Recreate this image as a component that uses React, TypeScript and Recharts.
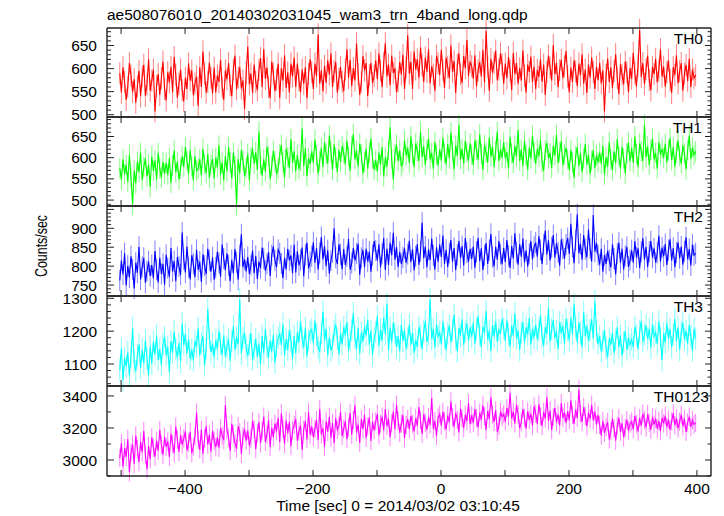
import { LineChart, Line, XAxis, YAxis, ErrorBar } from 'recharts'

const title = 'ae508076010_20140302031045_wam3_trn_4band_long.qdp'
const xTitle = 'Time [sec] 0 = 2014/03/02 03:10:45'
const yTitle = 'Counts/sec'

// bins of 2.5 s, first one at -502 s
const tStart = -502
const tStep = 2.5

const th0 = [
  590, 548, 603, 571, 532, 560, 612, 585, 549, 577, 526, 561, 595, 540, 583, 608, 541, 566, 620, 552,
  574, 598, 507, 562, 588, 543, 579, 615, 556, 531, 592, 570, 604, 549, 625, 586, 537, 567, 598, 553,
  529, 580, 556, 611, 574, 596, 542, 568, 583, 519, 603, 560, 637, 589, 548, 571, 613, 580, 546, 602,
  548, 585, 571, 619, 559, 532, 596, 577, 612, 564, 540, 598, 628, 555, 581, 603, 557, 574, 512, 590,
  648, 566, 589, 547, 609, 571, 553, 597, 623, 560, 642, 578, 602, 560, 536, 615, 589, 551, 576, 611,
  536, 601, 574, 629, 558, 592, 548, 611, 583, 624, 560, 611, 574, 549, 598, 567, 603, 536, 588, 620,
  592, 556, 611, 583, 674, 567, 596, 551, 606, 569, 618, 587, 633, 560, 594, 614, 548, 578, 603, 571,
  551, 598, 642, 580, 619, 562, 601, 574, 655, 588, 543, 571, 627, 596, 612, 540, 586, 612, 569, 584,
  618, 577, 633, 596, 560, 612, 655, 583, 609, 564, 628, 590, 601, 549, 572, 614, 587, 630, 556, 602,
  672, 589, 614, 556, 637, 598, 620, 580, 646, 607, 571, 624, 593, 642, 568, 605, 587, 552, 628, 612,
  586, 641, 597, 558, 624, 603, 579, 650, 593, 616, 547, 608, 633, 588, 569, 627, 601, 662, 584, 615,
  605, 578, 629, 561, 596, 614, 583, 640, 570, 682, 604, 552, 621, 591, 612, 639, 575, 598, 633, 609,
  567, 611, 579, 625, 596, 553, 634, 588, 612, 567, 601, 574, 639, 585, 548, 608, 593, 626, 571, 604,
  556, 597, 582, 620, 571, 609, 543, 593, 628, 602, 574, 651, 588, 612, 560, 597, 619, 579, 605, 638,
  583, 549, 602, 571, 618, 594, 562, 611, 585, 631, 567, 598, 547, 609, 580, 624, 593, 556, 604, 575,
  612, 568, 596, 507, 586, 622, 571, 603, 558, 594, 631, 580, 545, 609, 587, 566, 615, 592, 549, 601,
  578, 634, 590, 561, 607, 684, 582, 612, 566, 599, 628, 575, 553, 604, 588, 621, 570, 596, 642, 583,
  604, 561, 592, 618, 575, 547, 603, 586, 629, 568, 594, 612, 552, 589, 608, 573, 621, 560, 598, 579,
  586,
]

const th1 = [
  575, 548, 596, 561, 583, 542, 607, 552, 489, 570, 539, 591, 566, 612, 547, 578, 598, 556, 584, 531,
  603, 569, 594, 548, 611, 575, 553, 590, 562, 587, 560, 599, 541, 582, 617, 566, 590, 549, 574, 604,
  578, 625, 593, 561, 618, 580, 547, 603, 569, 574, 596, 558, 621, 585, 564, 609, 552, 583, 597, 551,
  600, 577, 629, 560, 589, 546, 604, 568, 625, 589, 551, 612, 580, 488, 597, 563, 618, 594, 557, 576,
  609, 546, 601, 622, 585, 613, 571, 662, 584, 558, 596, 567, 625, 603, 549, 580, 616, 592, 561, 574,
  608, 630, 589, 553, 621, 602, 575, 644, 588, 615, 568, 607, 573, 592, 669, 580, 623, 556, 599, 585,
  615, 588, 643, 605, 562, 592, 623, 578, 637, 609, 586, 652, 614, 571, 631, 600, 566, 618, 590, 627,
  611, 584, 640, 603, 569, 628, 655, 596, 617, 579, 633, 608, 563, 590, 621, 574, 612, 645, 598, 572,
  594, 567, 612, 583, 625, 556, 601, 579, 618, 672, 597, 548, 609, 631, 592, 617, 579, 589, 641, 605,
  623, 588, 650, 609, 578, 634, 615, 592, 662, 601, 627, 583, 618, 645, 596, 612, 574, 637, 607, 581,
  620, 593, 647, 611, 584, 632, 598, 660, 615, 572, 629, 604, 677, 596, 621, 585, 640, 612, 593, 634,
  607, 583, 641, 618, 596, 655, 609, 571, 630, 612, 588, 648, 603, 626, 579, 617, 661, 592, 620, 600,
  636, 598, 614, 575, 649, 610, 587, 628, 603, 665, 592, 619, 580, 640, 606, 571, 624, 598, 652, 613,
  585, 621, 603, 642, 590, 569, 617, 635, 598, 611, 576, 628, 605, 654, 587, 613, 639, 582, 608, 624,
  596, 571, 618, 589, 553, 604, 625, 580, 611, 566, 598, 633, 584, 607, 562, 593, 618, 575, 606, 589,
  612, 585, 628, 560, 601, 579, 637, 596, 570, 615, 587, 644, 603, 574, 625, 598, 563, 610, 636, 591,
  623, 588, 650, 609, 578, 634, 615, 592, 678, 601, 627, 583, 618, 645, 596, 612, 574, 637, 607, 621,
  600, 633, 589, 617, 646, 594, 625, 579, 612, 641, 603, 586, 629, 610, 572, 618, 652, 597, 624, 606,
  615,
]

const th2 = [
  762, 815, 778, 834, 749, 801, 770, 826, 792, 741, 809, 783, 851, 765, 798, 822, 756, 787, 812, 774,
  803, 768, 840, 791, 757, 822, 779, 806, 751, 830, 795, 772, 848, 786, 813, 760, 824, 799, 777, 889,
  818, 783, 852, 797, 765, 829, 806, 771, 843, 790, 812, 758, 831, 801, 779, 846, 815, 785, 823, 764,
  796, 838, 809, 772, 857, 820, 789, 834, 802, 760, 816, 781, 845, 810, 764, 829, 884, 797, 818, 786,
  824, 779, 803, 841, 781, 827, 766, 812, 795, 849, 820, 788, 806, 837, 774, 829, 852, 815, 797, 843,
  834, 807, 768, 822, 791, 846, 815, 828, 781, 857, 783, 839, 802, 817, 849, 773, 830, 862, 794, 811,
  826, 863, 809, 848, 791, 835, 877, 818, 853, 800, 842, 780, 815, 837, 900, 822, 806, 858, 831, 792,
  845, 803, 826, 872, 791, 808, 848, 815, 834, 859, 777, 822, 843, 797, 846, 812, 838, 785, 829, 866,
  841, 815, 858, 797, 833, 874, 790, 846, 803, 862, 829, 888, 817, 851, 798, 838, 806, 823, 847, 809,
  832, 867, 811, 845, 789, 826, 858, 804, 839, 915, 821, 852, 797, 844, 816, 873, 828, 791, 850, 812,
  857, 824, 881, 806, 843, 798, 835, 869, 812, 848, 789, 830, 866, 821, 853, 802, 874, 836, 811, 846,
  819, 852, 796, 838, 874, 813, 847, 790, 829, 861, 806, 842, 885, 824, 799, 851, 817, 866, 832, 805,
  848, 811, 869, 827, 795, 853, 820, 887, 836, 804, 858, 825, 873, 810, 842, 799, 833, 866, 818, 851,
  862, 825, 879, 843, 806, 857, 894, 831, 868, 815, 849, 882, 823, 860, 837, 801, 871, 846, 820, 857,
  874, 832, 912, 851, 808, 868, 937, 834, 859, 817, 882, 845, 823, 897, 846, 812, 935, 838, 861, 829,
  804, 846, 785, 829, 806, 841, 815, 797, 858, 820, 778, 833, 862, 809, 846, 791, 827, 851, 798, 816,
  842, 809, 866, 823, 847, 795, 838, 874, 817, 851, 798, 838, 866, 823, 847, 809, 835, 880, 812, 849,
  826, 858, 803, 842, 871, 815, 848, 797, 836, 863, 821, 852, 804, 839, 876, 818, 845, 802, 857, 829,
  834,
]

const th3 = [
  1082, 1147, 1051, 1118, 1093, 1136, 1064, 1122, 1210, 1105, 1078, 1127, 1159, 1088, 1143, 1101, 1172, 1116, 1065, 1154,
  1101, 1168, 1129, 1187, 1112, 1145, 1096, 1161, 1183, 1127, 1152, 1075, 1170, 1134, 1198, 1146, 1119, 1164, 1107, 1223,
  1158, 1191, 1132, 1176, 1115, 1143, 1112, 1170, 1153, 1209, 1126, 1164, 1184, 1095, 1148, 1268, 1179, 1137, 1162, 1120,
  1173, 1145, 1201, 1160, 1128, 1188, 1122, 1152, 1176, 1109, 1170, 1215, 1143, 1182, 1160, 1297, 1131, 1177, 1195, 1148,
  1126, 1158, 1194, 1113, 1143, 1176, 1121, 1162, 1098, 1185, 1132, 1207, 1150, 1119, 1171, 1138, 1189, 1104, 1156, 1180,
  1192, 1158, 1221, 1127, 1176, 1143, 1204, 1171, 1115, 1185, 1132, 1197, 1166, 1229, 1180, 1150, 1211, 1124, 1172, 1198,
  1205, 1163, 1232, 1188, 1149, 1136, 1194, 1260, 1171, 1207, 1126, 1182, 1141, 1156, 1199, 1221, 1177, 1130, 1193, 1160,
  1212, 1186, 1228, 1142, 1172, 1203, 1255, 1181, 1144, 1210, 1131, 1196, 1168, 1213, 1187, 1235, 1159, 1201, 1127, 1179,
  1198, 1246, 1155, 1205, 1172, 1241, 1190, 1283, 1141, 1211, 1166, 1226, 1194, 1152, 1185, 1138, 1219, 1170, 1203, 1147,
  1178, 1220, 1159, 1196, 1133, 1174, 1152, 1213, 1187, 1145, 1199, 1231, 1168, 1190, 1298, 1176, 1207, 1150, 1222, 1184,
  1196, 1160, 1229, 1181, 1142, 1193, 1218, 1165, 1204, 1250, 1177, 1138, 1209, 1186, 1236, 1159, 1199, 1224, 1170, 1212,
  1183, 1226, 1162, 1207, 1245, 1188, 1151, 1214, 1195, 1262, 1173, 1201, 1140, 1219, 1184, 1231, 1168, 1204, 1192, 1237,
  1209, 1170, 1233, 1191, 1152, 1216, 1186, 1254, 1177, 1202, 1143, 1195, 1227, 1164, 1212, 1189, 1240, 1159, 1207, 1181,
  1221, 1175, 1203, 1248, 1182, 1156, 1213, 1191, 1272, 1168, 1207, 1234, 1179, 1199, 1145, 1228, 1193, 1216, 1161, 1238,
  1204, 1172, 1241, 1190, 1283, 1211, 1166, 1226, 1194, 1152, 1258, 1185, 1217, 1169, 1203, 1236, 1178, 1291, 1199, 1162,
  1185, 1138, 1170, 1203, 1147, 1121, 1178, 1159, 1196, 1133, 1174, 1212, 1150, 1187, 1125, 1166, 1201, 1143, 1180, 1158,
  1174, 1152, 1213, 1187, 1145, 1199, 1231, 1168, 1190, 1218, 1176, 1207, 1150, 1222, 1184, 1196, 1160, 1229, 1181, 1112,
  1193, 1165, 1224, 1178, 1206, 1151, 1189, 1237, 1170, 1212, 1143, 1198, 1226, 1175, 1201, 1160, 1219, 1186, 1140, 1207,
  1178,
]

const th0123 = [
  3012, 3105, 2958, 3074, 3020, 3131, 2923, 3046, 3098, 2975, 3152, 3067, 2986, 3113, 3049, 3180, 3031, 2942, 3089, 3005,
  3142, 3076, 3021, 3121, 3058, 3187, 3094, 3033, 3145, 3082, 3116, 3019, 3163, 3101, 3042, 3209, 3126, 3050, 3155, 3097,
  3134, 3178, 3060, 3109, 3176, 3043, 3083, 3148, 3297, 3122, 3065, 3190, 3037, 3137, 3212, 3096, 3159, 3051, 3183, 3118,
  3080, 3141, 3077, 3198, 3152, 3124, 3345, 3187, 3139, 3056, 3226, 3162, 3105, 3071, 3211, 3173, 3038, 3148, 3195, 3121,
  3183, 3090, 3132, 3244, 3190, 3068, 3168, 3236, 3104, 3184, 3271, 3113, 3158, 3249, 3082, 3202, 3142, 3227, 3179, 3262,
  3113, 3291, 3194, 3098, 3247, 3168, 3238, 3087, 3185, 3219, 3256, 3121, 3178, 3215, 3062, 3190, 3243, 3130, 3300, 3158,
  3208, 3142, 3194, 3250, 3125, 3319, 3161, 3198, 3083, 3242, 3176, 3270, 3139, 3231, 3104, 3262, 3188, 3213, 3301, 3150,
  3195, 3243, 3130, 3204, 3295, 3158, 3250, 3341, 3173, 3221, 3106, 3256, 3192, 3284, 3138, 3210, 3266, 3119, 3238, 3187,
  3240, 3286, 3155, 3225, 3271, 3184, 3318, 3212, 3258, 3143, 3229, 3302, 3191, 3346, 3244, 3170, 3227, 3280, 3136, 3218,
  3255, 3193, 3275, 3226, 3178, 3262, 3214, 3330, 3248, 3163, 3286, 3232, 3189, 3267, 3221, 3387, 3196, 3243, 3150, 3264,
  3286, 3215, 3301, 3243, 3190, 3278, 3236, 3365, 3265, 3208, 3294, 3250, 3172, 3319, 3261, 3198, 3283, 3242, 3356, 3225,
  3279, 3231, 3318, 3262, 3204, 3295, 3250, 3341, 3273, 3187, 3306, 3256, 3392, 3284, 3238, 3310, 3176, 3213, 3301, 3270,
  3286, 3240, 3325, 3271, 3418, 3258, 3302, 3229, 3346, 3284, 3197, 3236, 3318, 3262, 3195, 3304, 3251, 3289, 3214, 3335,
  3290, 3226, 3347, 3273, 3212, 3301, 3258, 3392, 3244, 3309, 3186, 3268, 3325, 3237, 3283, 3215, 3356, 3262, 3298, 3231,
  3304, 3249, 3372, 3281, 3226, 3316, 3263, 3440, 3289, 3238, 3331, 3275, 3210, 3296, 3258, 3345, 3247, 3302, 3221, 3280,
  3218, 3152, 3244, 3170, 3205, 3236, 3128, 3181, 3258, 3196, 3120, 3213, 3262, 3175, 3229, 3141, 3200, 3251, 3184, 3226,
  3240, 3193, 3275, 3226, 3178, 3262, 3214, 3290, 3248, 3203, 3286, 3232, 3189, 3267, 3221, 3258, 3196, 3243, 3180, 3264,
  3228, 3276, 3205, 3252, 3189, 3241, 3293, 3217, 3260, 3198, 3238, 3284, 3211, 3257, 3176, 3234, 3270, 3206, 3249, 3222,
  3232,
]

// 1-sigma error per bin
const errTh0 = 24
const errTh1 = 24
const errTh2 = 28
const errTh3 = 34
const errTh0123 = 57

// labelled y ticks of each panel
const th0Labels = [500, 550, 600, 650]
const th1Labels = [500, 550, 600, 650]
const th2Labels = [750, 800, 850, 900]
const th3Labels = [1100, 1200, 1300]
const th0123Labels = [3000, 3200, 3400]

const xTicks = [-500, -400, -300, -200, -100, 0, 100, 200, 300, 400]
const xLabelTicks = [-400, -200, 0, 200, 400]

const FONT = '"Liberation Sans", Arial, Helvetica, sans-serif'
const AXIS = '#222'
const xDomain: [number, number] = [-522, 422]

const fmt = (v: number) => (v < 0 ? '\u2212' + Math.abs(v) : String(v))

interface PanelProps {
  name: string
  values: number[]
  err: number
  color: string
  errColor: string
  domain: [number, number]
  labels: number[]
  major: number
  minor: number
  top: number
  height: number
  last?: boolean
  nameRight: number
}

function Panel({ name, values, err, color, errColor, domain, labels, major, minor, top, height, last, nameRight }: PanelProps) {
  const rows = values.map((v, i) => ({ t: tStart + i * tStep, v, e: err }))
  const yTicks: number[] = []
  for (let v = Math.ceil(domain[0] / minor) * minor; v < domain[1]; v += minor) yTicks.push(v)
  const bottomH = last ? 24 : 1

  const leftTick = (p: any) => {
    const v = p.payload.value
    const big = v % major === 0
    return (
      <g>
        <line x1={p.x} x2={p.x + (big ? 7 : 4)} y1={p.y} y2={p.y} stroke={AXIS} />
        {labels.includes(v) && (
          <text x={p.x - 10} y={p.y} dy="0.36em" textAnchor="end" fontSize={15.5} fontFamily={FONT} fill="#000">
            {v}
          </text>
        )}
      </g>
    )
  }
  const rightTick = (p: any) => {
    const big = p.payload.value % major === 0
    return <line x1={p.x} x2={p.x - (big ? 6 : 3.5)} y1={p.y} y2={p.y} stroke={AXIS} />
  }
  const topTick = (p: any) => <line x1={p.x} x2={p.x} y1={p.y} y2={p.y + 6} stroke={AXIS} />
  const bottomTick = (p: any) => {
    const v = p.payload.value
    return (
      <g>
        <line x1={p.x} x2={p.x} y1={p.y} y2={p.y - 6} stroke={AXIS} />
        {last && xLabelTicks.includes(v) && (
          <text x={p.x} y={p.y + 18} textAnchor="middle" fontSize={15.5} fontFamily={FONT} fill="#000">
            {fmt(v)}
          </text>
        )}
      </g>
    )
  }
  const axisLine = { stroke: AXIS, strokeWidth: 1.4 }

  return (
    <div style={{ position: 'absolute', left: 0, top: top - 1 }}>
      <LineChart width={724} height={height + 1 + bottomH} data={rows} margin={{ top: 0, right: 12, bottom: 0, left: 0 }}>
        <XAxis xAxisId="top" orientation="top" type="number" dataKey="t" domain={xDomain} allowDataOverflow
          ticks={xTicks} interval={0} height={1} tickSize={0} tickMargin={0} tickLine={false} axisLine={axisLine} tick={topTick} />
        <XAxis type="number" dataKey="t" domain={xDomain} allowDataOverflow
          ticks={xTicks} interval={0} height={bottomH} tickSize={0} tickMargin={0} tickLine={false} axisLine={axisLine} tick={bottomTick} />
        <YAxis type="number" domain={domain} allowDataOverflow ticks={yTicks} interval={0} width={107}
          tickSize={0} tickMargin={0} tickLine={false} axisLine={axisLine} tick={leftTick} />
        <YAxis yAxisId="right" orientation="right" type="number" domain={domain} allowDataOverflow ticks={yTicks} interval={0} width={1}
          tickSize={0} tickMargin={0} tickLine={false} axisLine={axisLine} tick={rightTick} />
        <Line type="linear" dataKey="v" stroke={color} strokeWidth={1.1} dot={false} activeDot={false} isAnimationActive={false}>
          <ErrorBar dataKey="e" width={0} stroke={errColor} strokeWidth={1} isAnimationActive={false} />
        </Line>
      </LineChart>
      <svg width={724} height={height} style={{ position: 'absolute', left: 0, top: 1, pointerEvents: 'none' }}>
        <text x={nameRight} y={16} textAnchor="end" fontSize={15.5} fontFamily={FONT} fill="#000">{name}</text>
      </svg>
    </div>
  )
}

export default function App() {
  return (
    <div style={{ position: 'absolute', left: 0, top: 0, width: 724, height: 516, background: '#fff', overflow: 'hidden' }}>
      <style>{'.recharts-surface{overflow:visible}'}</style>
      <svg width={724} height={516} style={{ position: 'absolute', left: 0, top: 0 }}>
        <text x={107} y={19.5} fontSize={15.5} fontFamily={FONT} fill="#000">{title}</text>
        <text transform="translate(46.5,246) rotate(-90)" textAnchor="middle" fontSize={16} fontFamily={FONT} fill="#000"
          textLength={62} lengthAdjust="spacingAndGlyphs">{yTitle}</text>
        <text x={398} y={511} textAnchor="middle" fontSize={15.5} fontFamily={FONT} fill="#000">{xTitle}</text>
      </svg>
      <Panel name="TH0" values={th0} err={errTh0} color="#ff0000" errColor="rgba(255,0,0,0.5)"
        domain={[495, 688]} labels={th0Labels} major={50} minor={10} top={28} height={89} nameRight={703} />
      <Panel name="TH1" values={th1} err={errTh1} color="#00ff00" errColor="rgba(0,255,0,0.5)"
        domain={[486, 696]} labels={th1Labels} major={50} minor={10} top={117} height={89} nameRight={702} />
      <Panel name="TH2" values={th2} err={errTh2} color="#0000ff" errColor="rgba(0,0,255,0.5)"
        domain={[721, 959]} labels={th2Labels} major={50} minor={10} top={206} height={90} nameRight={703} />
      <Panel name="TH3" values={th3} err={errTh3} color="#00ffff" errColor="rgba(0,255,255,0.5)"
        domain={[1033, 1307]} labels={th3Labels} major={100} minor={20} top={296} height={90} nameRight={703} />
      <Panel name="TH0123" values={th0123} err={errTh0123} color="#ff00ff" errColor="rgba(255,0,255,0.5)"
        domain={[2900, 3462]} labels={th0123Labels} major={200} minor={100} top={386} height={90} last nameRight={709} />
    </div>
  )
}
